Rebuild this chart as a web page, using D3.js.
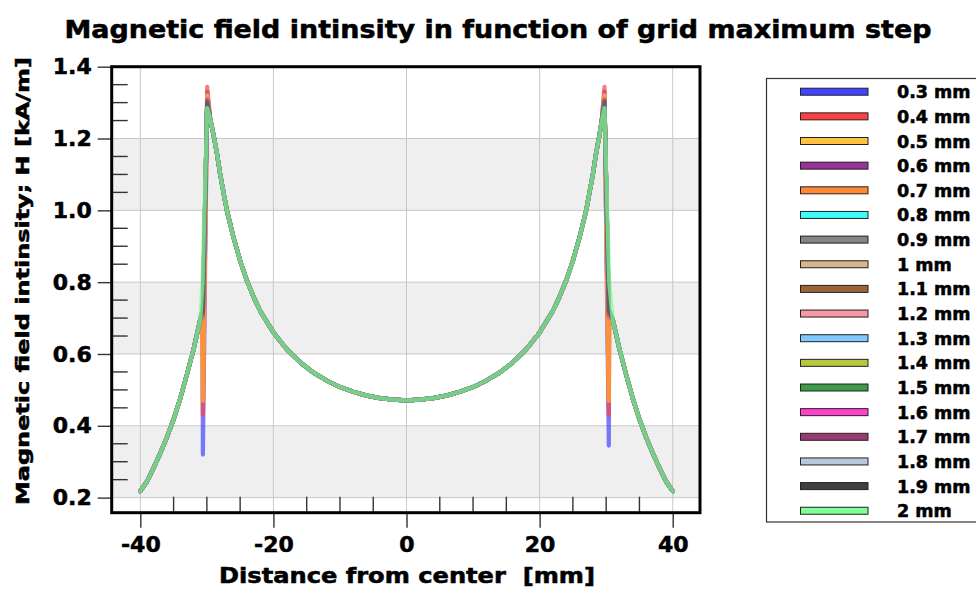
<!DOCTYPE html>
<html>
<head>
<meta charset="utf-8">
<script src="https://cdn.jsdelivr.net/npm/d3@7"></script>
<style>
  html, body { margin: 0; padding: 0; background: #ffffff; }
  svg { display: block; font-family: "DejaVu Sans", "Liberation Sans", sans-serif; font-weight: bold; }
  text { white-space: pre; stroke: #000; stroke-width: 0.55px; }
</style>
</head>
<body>
<svg id="chart" width="976" height="589"></svg>
<script>
// Grid maximum step of each simulated series
const stepLabels = ["0.3 mm","0.4 mm","0.5 mm","0.6 mm","0.7 mm","0.8 mm","0.9 mm","1 mm","1.1 mm",
                    "1.2 mm","1.3 mm","1.4 mm","1.5 mm","1.6 mm","1.7 mm","1.8 mm","1.9 mm","2 mm"];
const stepColors = ["#4343ff","#ff4040","#ffc23f","#993399","#ff8a33","#3ffcfc","#858585","#d6b68a","#9a6436",
                    "#f79aa6","#7fc8ff","#b7c83e","#3d9a49","#ff40cc","#9a3a72","#b8c8dc","#404040","#7fff98"];

// Common field profile H(x) shared by all meshes away from the magnet edges
const baseX = [-40,-39,-38,-37,-36,-35,-34,-33,-32,-31.5,-31,
               -29.5,-29,-28.5,-28,-27,-26,-25,-24,-23,-22,-20,-18,-16,-14,-12,-10,-8,-6,-4,-2,0,
               2,4,6,8,10,12,14,16,18,20,22,23,24,25,26,27,28,28.5,29,29.3,
               31,31.5,32,33,34,35,36,37,38,39,40];
const baseH = [0.218,0.245,0.283,0.324,0.368,0.418,0.476,0.543,0.613,0.654,0.695,
               1.255,1.21,1.16,1.10,1.00,0.925,0.86,0.805,0.76,0.72,0.66,0.613,0.577,0.548,0.526,0.508,0.495,0.484,0.477,0.473,0.471,
               0.473,0.477,0.484,0.495,0.508,0.526,0.548,0.577,0.613,0.66,0.72,0.76,0.805,0.86,0.925,1.00,1.10,1.16,1.21,1.245,
               0.695,0.654,0.613,0.543,0.476,0.418,0.368,0.324,0.283,0.245,0.218];

// Values at the magnet edges: last point before the jump, bottom of the dip, peak
const leftEdgeX  = [-30.65, -30.6, -29.95];
const rightEdgeX = [29.75, 30.4, 30.45];
const edgeLevel  = [0.72,0.72,0.72,0.72,0.72,0.72,0.72,0.72,0.72,0.72,0.72,0.72,0.72,0.72,0.72,0.72,0.72,0.80];
const dipLeft    = [0.32,0.43,0.47,0.70,0.47,0.72,0.72,0.72,0.72,0.72,0.72,0.72,0.72,0.72,0.71,0.72,0.72,0.84];
const dipRight   = [0.345,0.43,0.47,0.70,0.47,0.72,0.72,0.72,0.72,0.72,0.72,0.72,0.72,0.72,0.71,0.72,0.72,0.84];
const peakLeft   = [1.33,1.344,1.32,1.31,1.31,1.30,1.30,1.30,1.30,1.30,1.30,1.30,1.30,1.30,1.305,1.30,1.30,1.285];
const peakRight  = [1.33,1.344,1.32,1.31,1.31,1.30,1.30,1.30,1.30,1.30,1.30,1.30,1.30,1.30,1.305,1.30,1.30,1.285];

// Axis ticks
const xMajor = [-40,-20,0,20,40];
const yMajor = [0.2,0.4,0.6,0.8,1.0,1.2,1.4];

const svg = d3.select("#chart");

const x = d3.scaleLinear().domain([-44.3, 44.1]).range([111.7, 700]);
const y = d3.scaleLinear().domain([0.158, 1.4]).range([512.7, 66.7]);

// Assemble each series from the shared profile plus its own edge points
const series = stepLabels.map((label, i) => {
  const pts = baseX.map((xv, k) => ({x: xv, h: baseH[k]}));
  pts.push({x: leftEdgeX[0], h: edgeLevel[i]}, {x: leftEdgeX[1], h: dipLeft[i]}, {x: leftEdgeX[2], h: peakLeft[i]});
  pts.push({x: rightEdgeX[0], h: peakRight[i]}, {x: rightEdgeX[1], h: dipRight[i]}, {x: rightEdgeX[2], h: edgeLevel[i]});
  pts.sort((a, b) => a.x - b.x);
  return {label, color: stepColors[i], pts};
});

// Alternating background bands
const bands = [[1.0,1.2],[0.6,0.8],[0.2,0.4]];
svg.append("g").selectAll("rect").data(bands).join("rect")
  .attr("x", x.range()[0]).attr("width", x.range()[1] - x.range()[0])
  .attr("y", d => y(d[1])).attr("height", d => y(d[0]) - y(d[1]))
  .attr("fill", "#efefef");

// Grid lines
svg.append("g").selectAll("line").data(yMajor).join("line")
  .attr("x1", x.range()[0]).attr("x2", x.range()[1])
  .attr("y1", d => y(d)).attr("y2", d => y(d))
  .attr("stroke", "#c8c8c8").attr("stroke-width", 1);
svg.append("g").selectAll("line").data(xMajor).join("line")
  .attr("y1", y.range()[0]).attr("y2", y.range()[1])
  .attr("x1", d => x(d)).attr("x2", d => x(d))
  .attr("stroke", "#c8c8c8").attr("stroke-width", 1);

// Curves
const line = d3.line().x(d => x(d.x)).y(d => y(d.h));
svg.append("clipPath").attr("id", "plotClip").append("rect")
  .attr("x", x.range()[0]).attr("y", y.range()[1])
  .attr("width", x.range()[1] - x.range()[0]).attr("height", y.range()[0] - y.range()[1]);
svg.append("g").attr("clip-path", "url(#plotClip)")
  .selectAll("path").data(series).join("path")
  .attr("d", d => line(d.pts))
  .attr("fill", "none")
  .attr("stroke", d => d.color)
  .attr("stroke-opacity", 0.7)
  .attr("stroke-width", 4.2)
  .attr("stroke-linejoin", "round")
  .attr("stroke-linecap", "round");

// Axes: major ticks outside, minor ticks inside
const yAxis = d3.axisLeft(y).tickValues(yMajor).tickFormat(d3.format(".1f")).tickSize(14).tickPadding(6);
const yAxisG = svg.append("g").attr("transform", `translate(${x.range()[0]},0)`).call(yAxis);
yAxisG.select(".domain").remove();
yAxisG.selectAll("line").attr("stroke", "#333").attr("stroke-width", 1.4);
yAxisG.selectAll("text").attr("font-size", 22).attr("font-weight", "bold").attr("fill", "#000")
  .attr("font-family", "DejaVu Sans");

const yMinor = d3.range(0, 25).map(k => 0.2 + k * 0.05).filter(v => Math.abs(v * 5 - Math.round(v * 5)) > 1e-6 && v < 1.4);
svg.append("g").selectAll("line").data(yMinor).join("line")
  .attr("x1", x.range()[0]).attr("x2", x.range()[0] + 16)
  .attr("y1", d => y(d)).attr("y2", d => y(d))
  .attr("stroke", "#333").attr("stroke-width", 1.4);

const xAxis = d3.axisBottom(x).tickValues(xMajor).tickFormat(d3.format("d")).tickSize(15).tickPadding(9);
const xAxisG = svg.append("g").attr("transform", `translate(0,${y.range()[0]})`).call(xAxis);
xAxisG.select(".domain").remove();
xAxisG.selectAll("line").attr("stroke", "#333").attr("stroke-width", 1.4);
xAxisG.selectAll("text").attr("font-size", 22).attr("font-weight", "bold").attr("fill", "#000")
  .attr("font-family", "DejaVu Sans").text(d => d < 0 ? "-" + Math.abs(d) : d);

const xMinor = d3.range(-40, 41, 5).filter(v => v % 20 !== 0);
svg.append("g").selectAll("line").data(xMinor).join("line")
  .attr("x1", d => x(d)).attr("x2", d => x(d))
  .attr("y1", y.range()[0]).attr("y2", y.range()[0] - 16)
  .attr("stroke", "#333").attr("stroke-width", 1.4);

// Plot frame
svg.append("rect")
  .attr("x", x.range()[0]).attr("y", y.range()[1])
  .attr("width", x.range()[1] - x.range()[0]).attr("height", y.range()[0] - y.range()[1])
  .attr("fill", "none").attr("stroke", "#000").attr("stroke-width", 3);

// Titles
svg.append("text").attr("x", 498).attr("y", 38).attr("text-anchor", "middle")
  .attr("font-size", 25).attr("textLength", 867).attr("lengthAdjust", "spacingAndGlyphs")
  .text("Magnetic field intinsity in function of grid maximum step");
svg.append("text").attr("x", 407).attr("y", 583).attr("text-anchor", "middle")
  .attr("font-size", 21).attr("textLength", 376).attr("lengthAdjust", "spacingAndGlyphs")
  .text("Distance from center  [mm]");
svg.append("text").attr("transform", "translate(29,281) rotate(-90)").attr("text-anchor", "middle")
  .attr("font-size", 18).attr("textLength", 448).attr("lengthAdjust", "spacingAndGlyphs")
  .text("Magnetic field intinsity; H [kA/m]");

// Legend
const legend = svg.append("g");
legend.append("rect").attr("x", 766.5).attr("y", 78.5).attr("width", 215).attr("height", 443.5)
  .attr("fill", "#fff").attr("stroke", "#333").attr("stroke-width", 1.2);
const rowY = i => 91.7 + i * 24.65;
legend.selectAll("rect.sw").data(series).join("rect").attr("class", "sw")
  .attr("x", 800.5).attr("y", (d, i) => rowY(i) - 3.5).attr("width", 67.5).attr("height", 7)
  .attr("fill", d => d.color).attr("stroke", "#222").attr("stroke-width", 1);
legend.selectAll("text").data(series).join("text")
  .attr("x", 897).attr("y", (d, i) => rowY(i) + 6.5)
  .attr("font-size", 17.5).attr("fill", "#000")
  .text(d => d.label);
</script>
</body>
</html>
